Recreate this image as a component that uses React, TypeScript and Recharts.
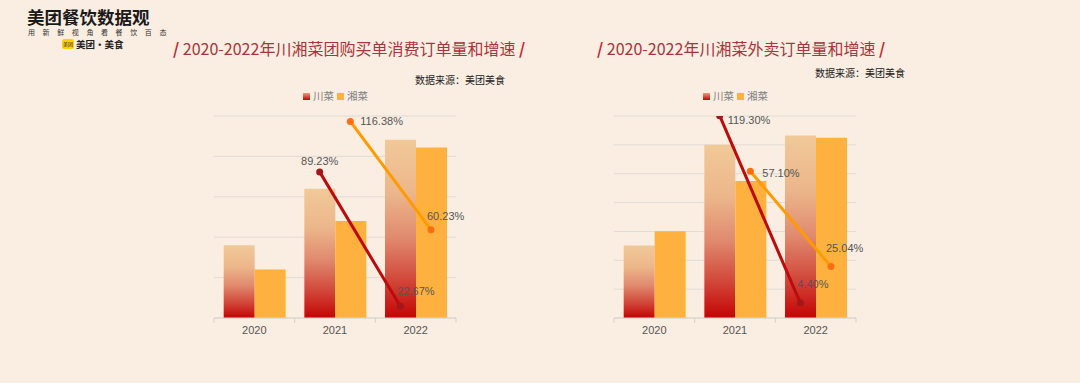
import React from "react";
import { ComposedChart, Bar, Line, XAxis, YAxis, CartesianGrid, LabelList } from "recharts";

// years on the x axis
const YEARS = ["2020", "2021", "2022"];

// 团购 (group buying) orders, relative units
const TG_CHUAN = [1.8, 3.2, 4.41];
const TG_XIANG = [1.2, 2.4, 4.22];
const TG_CHUAN_GROWTH = [null, 89.23, 22.67];
const TG_XIANG_GROWTH = [null, 116.38, 60.23];

// 外卖 (delivery) orders
const WM_CHUAN = [2.51, 6.0, 6.32];
const WM_XIANG = [3.01, 4.75, 6.25];
const WM_CHUAN_GROWTH = [null, 119.3, 4.4];
const WM_XIANG_GROWTH = [null, 57.1, 25.04];

const BG = "#faeee2";
const XIANG_COLOR = "#ffb13f";
const CAT_GAP = 0.12;
// bar centers sit a quarter of the used band away from the band center
const SHIFT = (1 - 2 * CAT_GAP) / 4;
const FONT = "Arial, 'Liberation Sans', 'Noto Sans CJK SC', sans-serif";
const CJK = "'Noto Sans CJK SC', sans-serif";

type LabelPos = { dx: number; dy: number; anchor: "start" | "middle" | "end" } | null;

const fmt = (v: number) => v.toFixed(2) + "%";

function makeLabel(pos: LabelPos[]) {
  return (props: any) => {
    const { x, y, value, index } = props;
    const p = pos[index];
    if (value == null || !p) return null;
    return (
      <text
        x={x + p.dx}
        y={y + p.dy}
        textAnchor={p.anchor}
        dominantBaseline="central"
        fontSize={11}
        fill="#555"
        fontFamily={FONT}
      >
        {fmt(value)}
      </text>
    );
  };
}

function YearTick(props: any) {
  const { x, y, payload, index, visibleTicksCount } = props;
  const half = payload && payload.offset ? payload.offset : 40.3;
  return (
    <g>
      <line x1={x - half} x2={x - half} y1={y} y2={y + 5} stroke="#d6d0ca" />
      {index === visibleTicksCount - 1 && (
        <line x1={x + half} x2={x + half} y1={y} y2={y + 5} stroke="#d6d0ca" />
      )}
      <text x={x} y={y + 12} textAnchor="middle" dominantBaseline="central" fontSize={11} fill="#555" fontFamily={FONT}>
        {payload.value}
      </text>
    </g>
  );
}

type ChartProps = {
  id: string;
  left: number;
  chuan: number[];
  xiang: number[];
  chuanG: (number | null)[];
  xiangG: (number | null)[];
  barMax: number;
  gcDomain: [number, number];
  gxDomain: [number, number];
  chuanLabels: LabelPos[];
  xiangLabels: LabelPos[];
};

function OrdersChart(p: ChartProps) {
  const rows = YEARS.map((year, i) => ({
    year,
    chuan: p.chuan[i],
    xiang: p.xiang[i],
    chuanG: p.chuanG[i],
    xiangG: p.xiangG[i],
    chuanPos: i + 0.5 - SHIFT,
    xiangPos: i + 0.5 + SHIFT,
  }));
  const ticks = Array.from({ length: p.barMax + 1 }, (_, i) => i);
  return (
    <div style={{ position: "absolute", left: p.left, top: 100 }}>
      <ComposedChart
        width={280}
        height={240}
        data={rows}
        margin={{ top: 16, right: 24, left: 14, bottom: 0 }}
        barCategoryGap={`${CAT_GAP * 100}%`}
        barGap={0}
      >
        <defs>
          <linearGradient id={p.id + "grad"} x1="0" y1="0" x2="0" y2="1">
            <stop offset="0%" stopColor="#f1c998" />
            <stop offset="30%" stopColor="#ecb68b" />
            <stop offset="55%" stopColor="#e08a6e" />
            <stop offset="78%" stopColor="#d24a3c" />
            <stop offset="100%" stopColor="#c40404" />
          </linearGradient>
        </defs>
        <XAxis
          xAxisId="cat"
          dataKey="year"
          type="category"
          interval={0}
          tickLine={false}
          tickSize={0}
          tickMargin={0}
          height={22}
          axisLine={{ stroke: "#d9d3cd" }}
          tick={<YearTick />}
        />
        <XAxis xAxisId="pc" dataKey="chuanPos" type="number" domain={[0, 3]} hide />
        <XAxis xAxisId="px" dataKey="xiangPos" type="number" domain={[0, 3]} hide />
        <YAxis yAxisId="bar" domain={[0, p.barMax]} ticks={ticks} hide />
        <YAxis yAxisId="gc" domain={p.gcDomain} allowDataOverflow hide />
        <YAxis yAxisId="gx" domain={p.gxDomain} allowDataOverflow hide />
        <CartesianGrid xAxisId="cat" yAxisId="bar" vertical={false} stroke="#e0dbd6" />
        <Bar xAxisId="cat" yAxisId="bar" dataKey="chuan" fill={`url(#${p.id}grad)`} isAnimationActive={false} />
        <Bar xAxisId="cat" yAxisId="bar" dataKey="xiang" fill={XIANG_COLOR} isAnimationActive={false} />
        <Line
          xAxisId="pc"
          yAxisId="gc"
          dataKey="chuanG"
          stroke="#bd0a0a"
          strokeWidth={3}
          dot={{ r: 3.5, fill: "#a3161a", stroke: "none" }}
          isAnimationActive={false}
        >
          <LabelList dataKey="chuanG" content={makeLabel(p.chuanLabels)} />
        </Line>
        <Line
          xAxisId="px"
          yAxisId="gx"
          dataKey="xiangG"
          stroke="#ff9a00"
          strokeWidth={3}
          dot={{ r: 3.5, fill: "#ff6d12", stroke: "none" }}
          isAnimationActive={false}
        >
          <LabelList dataKey="xiangG" content={makeLabel(p.xiangLabels)} />
        </Line>
      </ComposedChart>
    </div>
  );
}

function Legend({ left, id }: { left: number; id: string }) {
  return (
    <div style={{ position: "absolute", left, top: 89, display: "flex", alignItems: "center", fontFamily: CJK, fontSize: 10.5, lineHeight: "14px", color: "#808080" }}>
      <svg width={7} height={7} style={{ marginRight: 3 }}>
        <defs>
          <linearGradient id={id + "lg"} x1="0" y1="0" x2="0" y2="1">
            <stop offset="0%" stopColor="#e7a07a" />
            <stop offset="100%" stopColor="#c40404" />
          </linearGradient>
        </defs>
        <rect width={7} height={7} fill={`url(#${id}lg)`} />
      </svg>
      <span>川菜</span>
      <svg width={7} height={7} style={{ marginLeft: 3, marginRight: 3 }}>
        <rect width={7} height={7} fill={XIANG_COLOR} />
      </svg>
      <span>湘菜</span>
    </div>
  );
}

function Title({ left, text }: { left: number; text: string }) {
  const slash = { color: "#c0282f", fontWeight: 700 };
  return (
    <div style={{ position: "absolute", left, top: 37, fontFamily: CJK, fontSize: 16, lineHeight: "22px", color: "#a8353c", whiteSpace: "pre" }}>
      <span style={slash}>/</span>
      {" " + text + " "}
      <span style={slash}>/</span>
    </div>
  );
}

function Source({ left, top }: { left: number; top: number }) {
  return (
    <div style={{ position: "absolute", left, top, fontFamily: CJK, fontSize: 10, color: "#222", whiteSpace: "nowrap" }}>
      数据来源：美团美食
    </div>
  );
}

export default function App() {
  return (
    <div style={{ position: "fixed", left: 0, top: 0, width: 1080, height: 383, background: BG, overflow: "hidden" }}>
      {/* logo block */}
      <div style={{ position: "absolute", left: 27, top: 7, fontFamily: CJK, fontSize: 17.5, lineHeight: "20px", fontWeight: 700, color: "#1a1a1a", whiteSpace: "nowrap" }}>
        美团餐饮数据观
      </div>
      <div style={{ position: "absolute", left: 28, top: 28, fontFamily: CJK, fontSize: 7, lineHeight: "8px", color: "#333", letterSpacing: 7.6, whiteSpace: "nowrap" }}>
        用新鲜视角看餐饮百态
      </div>
      <div style={{ position: "absolute", left: 62, top: 39, width: 12, height: 10, background: "#ffd100", borderRadius: 2, fontSize: 5, fontFamily: CJK, color: "#222", textAlign: "center", lineHeight: "10px" }}>
        美团
      </div>
      <div style={{ position: "absolute", left: 76, top: 37, fontFamily: CJK, fontSize: 9.5, lineHeight: "14px", fontWeight: 700, color: "#222", whiteSpace: "nowrap" }}>
        美团·美食
      </div>

      <Title left={173} text="2020-2022年川湘菜团购买单消费订单量和增速" />
      <Title left={597} text="2020-2022年川湘菜外卖订单量和增速" />
      <Source left={415} top={72} />
      <Source left={815} top={65} />
      <Legend left={303} id="l1" />
      <Legend left={703} id="l2" />

      <OrdersChart
        id="tg"
        left={200}
        chuan={TG_CHUAN}
        xiang={TG_XIANG}
        chuanG={TG_CHUAN_GROWTH}
        xiangG={TG_XIANG_GROWTH}
        barMax={5}
        gcDomain={[16.9, 116.9]}
        gxDomain={[14.4, 119.2]}
        chuanLabels={[null, { dx: 0, dy: -11, anchor: "middle" }, { dx: -3, dy: -15, anchor: "start" }]}
        xiangLabels={[null, { dx: 10, dy: 0, anchor: "start" }, { dx: -4, dy: -14, anchor: "start" }]}
      />
      <OrdersChart
        id="wm"
        left={600}
        chuan={WM_CHUAN}
        xiang={WM_XIANG}
        chuanG={WM_CHUAN_GROWTH}
        xiangG={WM_XIANG_GROWTH}
        barMax={7}
        gcDomain={[-4.8, 119.1]}
        gxDomain={[7.7, 75.7]}
        chuanLabels={[null, { dx: 8, dy: 4, anchor: "start" }, { dx: -3, dy: -19, anchor: "start" }]}
        xiangLabels={[null, { dx: 12, dy: 2, anchor: "start" }, { dx: -5, dy: -18, anchor: "start" }]}
      />
    </div>
  );
}
